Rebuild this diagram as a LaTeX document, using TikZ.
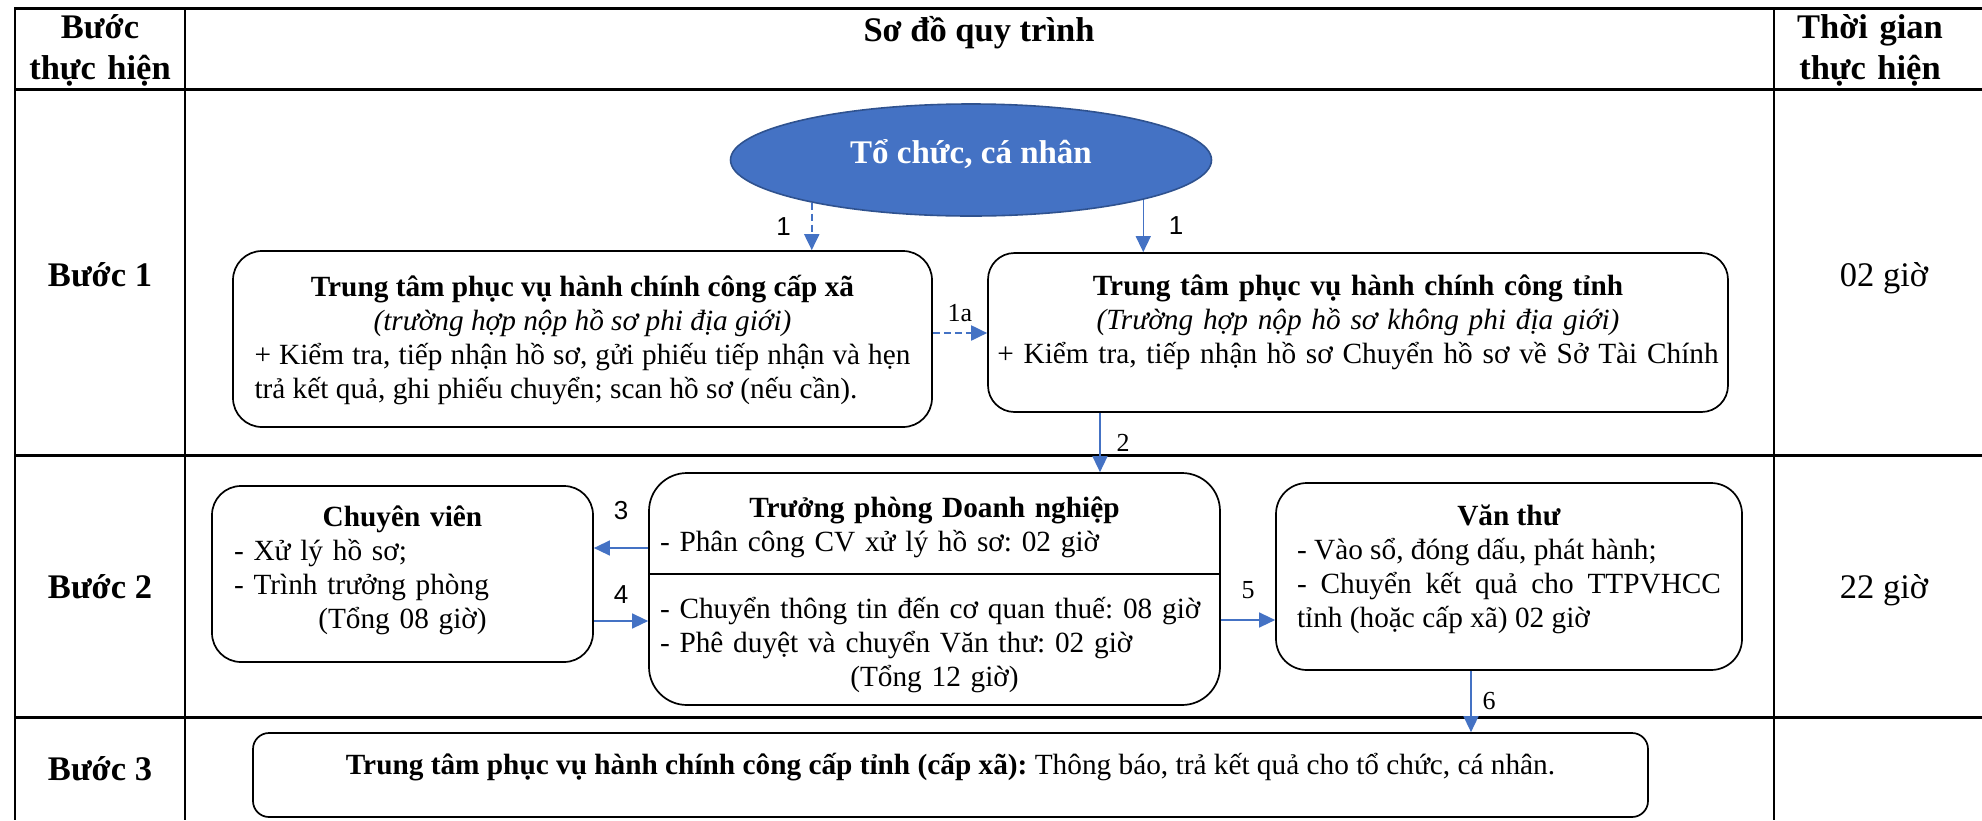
\documentclass[tikz,border=0pt]{standalone}
\usepackage{fontspec}
\setmainfont{Liberation Serif}
\newfontfamily\numfont{Liberation Sans}
\usepackage{xcolor}
\usepackage{tikz}
\usetikzlibrary{shapes,arrows.meta,positioning}
\frenchspacing

\definecolor{actorblue}{HTML}{4472C4}
\definecolor{actoredge}{HTML}{2F528F}
\newcommand{\midline}[1]{{\centering #1\par}}

\begin{document}
\begin{tikzpicture}[
    x=0.5pt, y=-0.5pt,
    every node/.style={font=\fontsize{14.65}{17}\selectfont},
    head/.style={font=\fontsize{17.25}{20.5}\selectfont\bfseries, inner sep=0pt, anchor=base, align=center},
    cell/.style={font=\fontsize{17.25}{20.5}\selectfont, inner sep=0pt, anchor=base},
    stage/.style={cell, font=\fontsize{17.25}{20.5}\selectfont\bfseries},
    actor/.style={ellipse, fill=actorblue, draw=actoredge, line width=0.8pt, text=white,
        font=\fontsize{16.5}{19}\selectfont\bfseries, inner sep=0pt},
    proc/.style={rectangle, draw=black, line width=0.85pt, inner ysep=0pt},
    flow/.style={-{Triangle[length=8pt, width=7.5pt]}, draw=actorblue, line width=0.7pt},
    alt/.style={flow, line width=1pt, dash pattern=on 3.5pt off 2pt},
    num/.style={font=\fontsize{13}{15}\selectfont, inner sep=1pt},
    numsf/.style={num, font=\numfont\fontsize{13}{15}\selectfont},
    grid/.style={line width=1.5pt, line cap=rect},
    rule/.style={line width=1pt}
]
    \useasboundingbox (0,0) rectangle (1982,820);

    % table frame
    \draw[grid] (15,8) -- (1982,8);
    \draw[grid] (15,89) -- (1982,89);
    \draw[grid] (15,455) -- (1982,455);
    \draw[grid] (15,717) -- (1982,717);
    \draw[rule, line width=1.3pt] (15,8) -- (15,820);
    \draw[rule] (185,8) -- (185,820);
    \draw[rule] (1774,8) -- (1774,820);

    % headers
    \node[head, text width=85pt] (hstep) at (100,38) {Bước\\thực hiện};
    \node[head] (hflow) at (979,41) {Sơ đồ quy trình};
    \node[head, text width=90pt] (htime) at (1870,38) {Thời gian\\thực hiện};

    % steps and times
    \node[stage] (s1) at (100,286) {Bước 1};
    \node[stage] (s2) at (100,598) {Bước 2};
    \node[stage] (s3) at (100,780) {Bước 3};
    \node[cell] (t1) at (1884,286) {02 giờ};
    \node[cell] (t2) at (1884,598) {22 giờ};

    % step 1
    \node[actor, minimum width=240.5pt, minimum height=56pt, text height=9.5pt, text depth=6.5pt] (org) at (971,160) {Tổ chức, cá nhân};
    \node[proc, rounded corners=14.5pt, text width=328pt, inner xsep=10.75pt, text height=22.5pt, text depth=65.5pt, align=justify] (xa) at (582.5,339)
        {\midline{\textbf{Trung tâm phục vụ hành chính công cấp xã}}\midline{\textit{(trường hợp nộp hồ sơ phi địa giới)}}+ Kiểm tra, tiếp nhận hồ sơ, gửi phiếu tiếp nhận và hẹn\linebreak trả kết quả, ghi phiếu chuyển; scan hồ sơ (nếu cần).};
    \node[proc, rounded corners=13.25pt, text width=366pt, inner xsep=2pt, text height=21pt, text depth=58.5pt, align=center] (tinh) at (1358,332.5)
        {\textbf{Trung tâm phục vụ hành chính công tỉnh}\\\textit{(Trường hợp nộp hồ sơ không phi địa giới)}\\+ Kiểm tra, tiếp nhận hồ sơ Chuyển hồ sơ về Sở Tài Chính};

    % step 2
    \node[proc, rounded corners=14.5pt, text width=168.5pt, inner xsep=11pt, text height=20pt, text depth=68pt, align=left] (cv) at (402.5,574)
        {\midline{\textbf{Chuyên viên}}- Xử lý hồ sơ;\\- Trình trưởng phòng\par\midline{(Tổng 08 giờ)}};
    \node[proc, rounded corners=19pt, text width=274.5pt, inner xsep=5.5pt, text height=22pt, text depth=94pt, align=left] (tp) at (934.5,589)
        {\midline{\textbf{Trưởng phòng Doanh nghiệp}}- Phân công CV xử lý hồ sơ: 02 giờ\\[16.5pt]- Chuyển thông tin đến cơ quan thuế: 08 giờ\\- Phê duyệt và chuyển Văn thư: 02 giờ\par\midline{(Tổng 12 giờ)}};
    \draw[line width=0.85pt] ([yshift=7.5pt]tp.west) -- ([yshift=7.5pt]tp.east);
    \node[proc, rounded corners=15.5pt, text width=212pt, inner xsep=10.5pt, text height=21pt, text depth=72.5pt, align=justify] (vt) at (1509,576.5)
        {\midline{\textbf{Văn thư}}- Vào sổ, đóng dấu, phát hành;\par- Chuyển kết quả cho TTPVHCC\linebreak tỉnh (hoặc cấp xã) 02 giờ};

    % step 3
    \node[proc, rounded corners=8pt, minimum width=697.5pt, text height=20.5pt, text depth=21.5pt] (tra) at (950.5,775)
        {\textbf{Trung tâm phục vụ hành chính công cấp tỉnh (cấp xã):} Thông báo, trả kết quả cho tổ chức, cá nhân.};

    % flows
    \draw[alt] (org.195) -- node[numsf, left=9pt] (l1) {1} (org.195 |- xa.north);
    \draw[flow] (org.347) -- node[numsf, right=11.5pt] (l1b) {1} (org.347 |- tinh.north);
    \draw[alt] ([yshift=3pt]xa.east) -- node[num, above=4pt] (l1a) {1a} ([yshift=3pt]xa.east -| tinh.west);
    \draw[flow] ([xshift=-129pt]tinh.south) -- node[num, right=7pt] (l2) {2} ([xshift=-129pt]tinh.south |- tp.north);
    \draw[flow] ([yshift=20.5pt]tp.west) -- node[numsf, above=13pt] (l3) {3} ([yshift=20.5pt]tp.west -| cv.east);
    \draw[flow] ([yshift=-23.5pt]cv.east) -- node[numsf, above=7.5pt] (l4) {4} ([yshift=-23.5pt]cv.east -| tp.west);
    \draw[flow] ([yshift=-15.5pt]tp.east) -- node[num, above=9.5pt] (l5) {5} ([yshift=-15.5pt]tp.east -| vt.west);
    \draw[flow] ([xshift=-19pt]vt.south) -- node[num, right=4.5pt] (l6) {6} ([xshift=-19pt]vt.south |- tra.north);
\end{tikzpicture}
\end{document}
